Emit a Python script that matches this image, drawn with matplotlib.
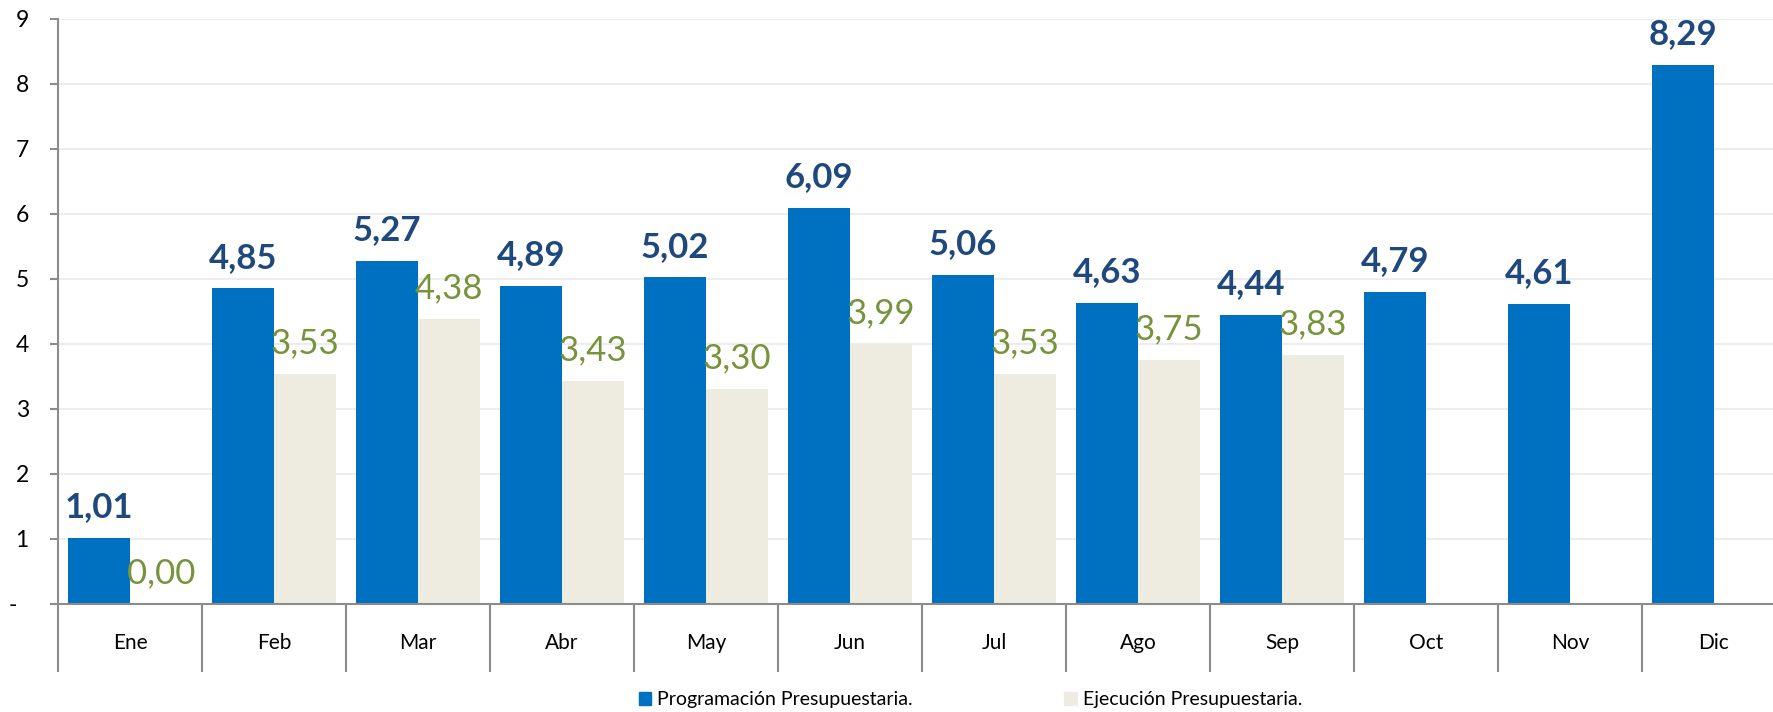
import numpy as np
import matplotlib
matplotlib.use('Agg')
import matplotlib.pyplot as plt
from matplotlib.patches import Patch

plt.rcParams['font.family'] = ['Lato', 'DejaVu Sans']

meses = ['Ene', 'Feb', 'Mar', 'Abr', 'May', 'Jun', 'Jul', 'Ago', 'Sep', 'Oct', 'Nov', 'Dic']
programacion = [1.01, 4.85, 5.27, 4.89, 5.02, 6.09, 5.06, 4.63, 4.44, 4.79, 4.61, 8.29]
ejecucion = [0.00, 3.53, 4.38, 3.43, 3.30, 3.99, 3.53, 3.75, 3.83, None, None, None]
y_ticks = [0, 1, 2, 3, 4, 5, 6, 7, 8, 9]
y_labels = ['-  ', '1', '2', '3', '4', '5', '6', '7', '8', '9']

azul = '#0070C0'
beige = '#EEECE1'
azul_txt = '#1F497D'
verde_txt = '#77933C'
gris = '#8C8C8C'

fig = plt.figure(figsize=(17.74, 7.12), dpi=100)
ax = fig.add_axes([58 / 1774, 1 - 603.7 / 712, 1 - 58 / 1774, (603.7 - 18.7) / 712])

x = np.arange(len(meses))
w = 0.43

ax.bar(x - w / 2, programacion, width=w, color=azul, zorder=2)
for i, v in enumerate(programacion):
    ax.annotate(f'{v:.2f}'.replace('.', ','), (x[i] - w / 2, v), xytext=(0, 15),
                textcoords='offset points', ha='center', va='baseline',
                fontsize=25, fontweight='bold', color=azul_txt, zorder=4)

xe = [x[i] for i, v in enumerate(ejecucion) if v is not None]
ve = [v for v in ejecucion if v is not None]
ax.bar(np.array(xe) + w / 2, ve, width=w, color=beige, zorder=2)
for xi, v in zip(xe, ve):
    ax.annotate(f'{v:.2f}'.replace('.', ','), (xi + w / 2, v), xytext=(0, 15),
                textcoords='offset points', ha='center', va='baseline',
                fontsize=25, color=verde_txt, zorder=4)

ax.set_ylim(0, 9)
ax.set_xlim(-0.5, (1774 - 58) / 144 - 0.5)
ax.set_yticks(y_ticks)
ax.set_yticklabels(y_labels)
ax.grid(axis='y', color='#EDEDED', linewidth=1.5, zorder=0)
ax.set_axisbelow(True)

ax.set_xticks(x)
ax.set_xticklabels(meses)
ax.set_xticks(np.arange(-0.5, 11.0, 1.0), minor=True)
ax.tick_params(axis='x', which='major', length=0, pad=21, labelsize=15)
ax.tick_params(axis='x', which='minor', length=49, width=1.5, color=gris, direction='out')
ax.tick_params(axis='y', length=6, width=1.5, color=gris, labelsize=16.5, pad=15)

for s in ['top', 'right']:
    ax.spines[s].set_visible(False)
for s in ['left', 'bottom']:
    ax.spines[s].set_color(gris)
    ax.spines[s].set_linewidth(1.5)

handles = [Patch(color=azul, label='Programación Presupuestaria.'),
           Patch(color=beige, label='Ejecución Presupuestaria.')]
fig.legend(handles=handles, loc='center', bbox_to_anchor=(0.547, 0.017), ncol=2,
           frameon=False, fontsize=14, handlelength=0.65, handleheight=0.65,
           handletextpad=0.3, columnspacing=7.8, borderpad=0.1)

fig.savefig('out.png', dpi=100)
